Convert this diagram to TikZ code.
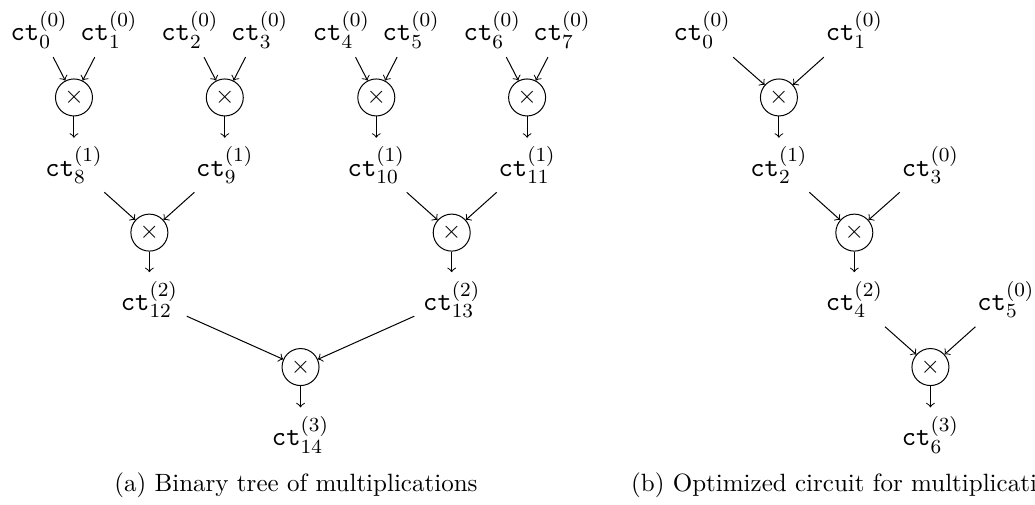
\documentclass[tikz,border=0pt]{standalone}
\begin{document}
\begin{tikzpicture}[>=to, every node/.style={font=\fontsize{10.95}{13.6}\selectfont},
  mul/.style={draw, circle, inner sep=0pt, minimum size=0.52cm, font=\normalsize},
  caption/.style={font=\normalsize}]
\useasboundingbox (0,0) rectangle (14.55,7.09);
% (a) Binary tree: inputs
\foreach \i/\x in {0/0.55,1/1.53,2/2.67,3/3.65,4/4.80,5/5.78,6/6.92,7/7.90}
  \node (c\i) at (\x,6.67) {$\mathtt{ct}_{\i}^{(0)}$};
% first level
\foreach \j/\x/\l/\r/\n in {0/1.04/0/1/8, 1/3.16/2/3/9, 2/5.29/4/5/10, 3/7.41/6/7/11} {
  \node[mul] (m\j) at (\x,5.72) {$\times$};
  \node (c\n) at (\x,4.77) {$\mathtt{ct}_{\n}^{(1)}$};
  \draw[->] (c\l) -- (m\j);
  \draw[->] (c\r) -- (m\j);
  \draw[->] (m\j) -- (c\n);
}
% second level
\foreach \j/\x/\l/\r/\n in {4/2.10/8/9/12, 5/6.35/10/11/13} {
  \node[mul] (m\j) at (\x,3.82) {$\times$};
  \node (c\n) at (\x,2.88) {$\mathtt{ct}_{\n}^{(2)}$};
  \draw[->] (c\l) -- (m\j);
  \draw[->] (c\r) -- (m\j);
  \draw[->] (m\j) -- (c\n);
}
% root
\node[mul] (m6) at (4.225,1.93) {$\times$};
\node (c14) at (4.225,0.98) {$\mathtt{ct}_{14}^{(3)}$};
\draw[->] (c12) -- (m6);
\draw[->] (c13) -- (m6);
\draw[->] (m6) -- (c14);
\node[caption] (capa) at (4.16,0.27) {(a) Binary tree of multiplications};
% (b) Optimized circuit
\node (d0) at (9.87,6.67) {$\mathtt{ct}_{0}^{(0)}$};
\node (d1) at (12.01,6.67) {$\mathtt{ct}_{1}^{(0)}$};
\node[mul] (n0) at (10.95,5.72) {$\times$};
\node (d2) at (10.95,4.77) {$\mathtt{ct}_{2}^{(1)}$};
\node (d3) at (13.08,4.77) {$\mathtt{ct}_{3}^{(0)}$};
\node[mul] (n1) at (12.01,3.82) {$\times$};
\node (d4) at (12.01,2.88) {$\mathtt{ct}_{4}^{(2)}$};
\node (d5) at (14.14,2.88) {$\mathtt{ct}_{5}^{(0)}$};
\node[mul] (n2) at (13.08,1.93) {$\times$};
\node (d6) at (13.08,0.98) {$\mathtt{ct}_{6}^{(3)}$};
\draw[->] (d0) -- (n0);
\draw[->] (d1) -- (n0);
\draw[->] (n0) -- (d2);
\draw[->] (d2) -- (n1);
\draw[->] (d3) -- (n1);
\draw[->] (n1) -- (d4);
\draw[->] (d4) -- (n2);
\draw[->] (d5) -- (n2);
\draw[->] (n2) -- (d6);
\node[caption] (capb) at (11.98,0.27) {(b) Optimized circuit for multiplications};
\end{tikzpicture}
\end{document}
